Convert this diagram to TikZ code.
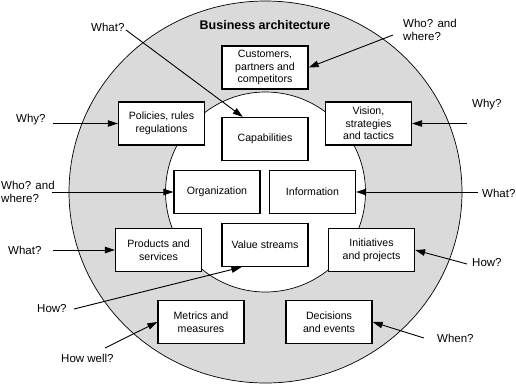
\documentclass[tikz,border=0pt]{standalone}
\usepackage{fontspec}
\setmainfont{Liberation Sans}
\usetikzlibrary{arrows.meta,calc}
\definecolor{ringgray}{RGB}{218,218,218}
\tikzset{
  box/.style={draw=black, line width=1.3pt, fill=white, minimum width=86pt, minimum height=43pt,
    inner sep=1pt, align=center, font=\fontsize{10.6}{12.7}\selectfont},
  qlabel/.style={anchor=west, inner sep=0pt, align=left, font=\fontsize{11.5}{13}\selectfont},
  arr/.style={line width=0.9pt, -{Triangle[length=10pt,width=6.5pt]}},
}
\begin{document}
\begin{tikzpicture}[x=1pt,y=-1pt]
\useasboundingbox (0,0) rectangle (516,384);
\clip (0,0) rectangle (516,384);
\fill[white] (0,0) rectangle (516,384);
% rings
\draw[fill=ringgray, line width=0.7pt] (265.5,192) ellipse [x radius=196.5, y radius=191];
\draw[fill=white, line width=0.7pt] (265.5,192) circle [radius=100];
% title
\node[inner sep=0pt, font=\fontsize{12.5}{15}\selectfont\bfseries] (title) at (265,25) {Business architecture};
% boxes
\node[box] (cust) at (265,67.5) {Customers,\\partners and\\competitors};
\node[box] (pol) at (161.5,123.5) {Policies, rules\\regulations};
\node[box] (cap) at (265,139) {Capabilities};
\node[box] (vis) at (368.5,123.5) {Vision,\\strategies\\and tactics};
\node[box] (org) at (217,192) {Organization};
\node[box] (info) at (312.5,192) {Information};
\node[box] (prod) at (158.5,250) {Products and\\services};
\node[box] (vs) at (265,245) {Value streams};
\node[box] (init) at (371.5,250) {Initiatives\\and projects};
\node[box] (met) at (201,322) {Metrics and\\measures};
\node[box] (dec) at (329,322) {Decisions\\and events};
% question labels
\node[qlabel] (q1) at (91,27) {What?};
\node[qlabel] (q2) at (403,29.5) {Who? and\\where?};
\node[qlabel] (q3) at (472,105) {Why?};
\node[qlabel] (q4) at (16,120) {Why?};
\node[qlabel] (q5) at (1,191.5) {Who? and\\where?};
\node[qlabel] (q6) at (482,193) {What?};
\node[qlabel] (q7) at (8,250) {What?};
\node[qlabel] (q8) at (37,309) {How?};
\node[qlabel] (q9) at (61,358) {How well?};
\node[qlabel] (q10) at (472,263) {How?};
\node[qlabel] (q11) at (437,338) {When?};
% arrow start points
\coordinate (s1) at (126,30);
\coordinate (s2) at (393,35);
\coordinate (s3) at (467,123.5);
\coordinate (s4) at (53,123.5);
\coordinate (s5) at (52,192);
\coordinate (s6) at (478,192);
\coordinate (s7) at (53,250);
\coordinate (s8) at (74,309);
\coordinate (s9) at (105,348);
\coordinate (s10) at (467,264);
\coordinate (s11) at (424,338);
% arrows
\draw[arr] (s1) -- ($(cap.north west)!0.245!(cap.north east)$);
\draw[arr] (s2) -- (cust.east);
\draw[arr] (s3) -- (vis.east);
\draw[arr] (s4) -- (pol.west);
\draw[arr] (s5) -- (org.west);
\draw[arr] (s6) -- (info.east);
\draw[arr] (s7) -- (prod.west);
\draw[arr] (s8) -- ($(vs.south west)!0.23!(vs.south east)$);
\draw[arr] (s9) -- (met.west);
\draw[arr] (s10) -- (init.east);
\draw[arr] (s11) -- (dec.east);
\end{tikzpicture}
\end{document}
